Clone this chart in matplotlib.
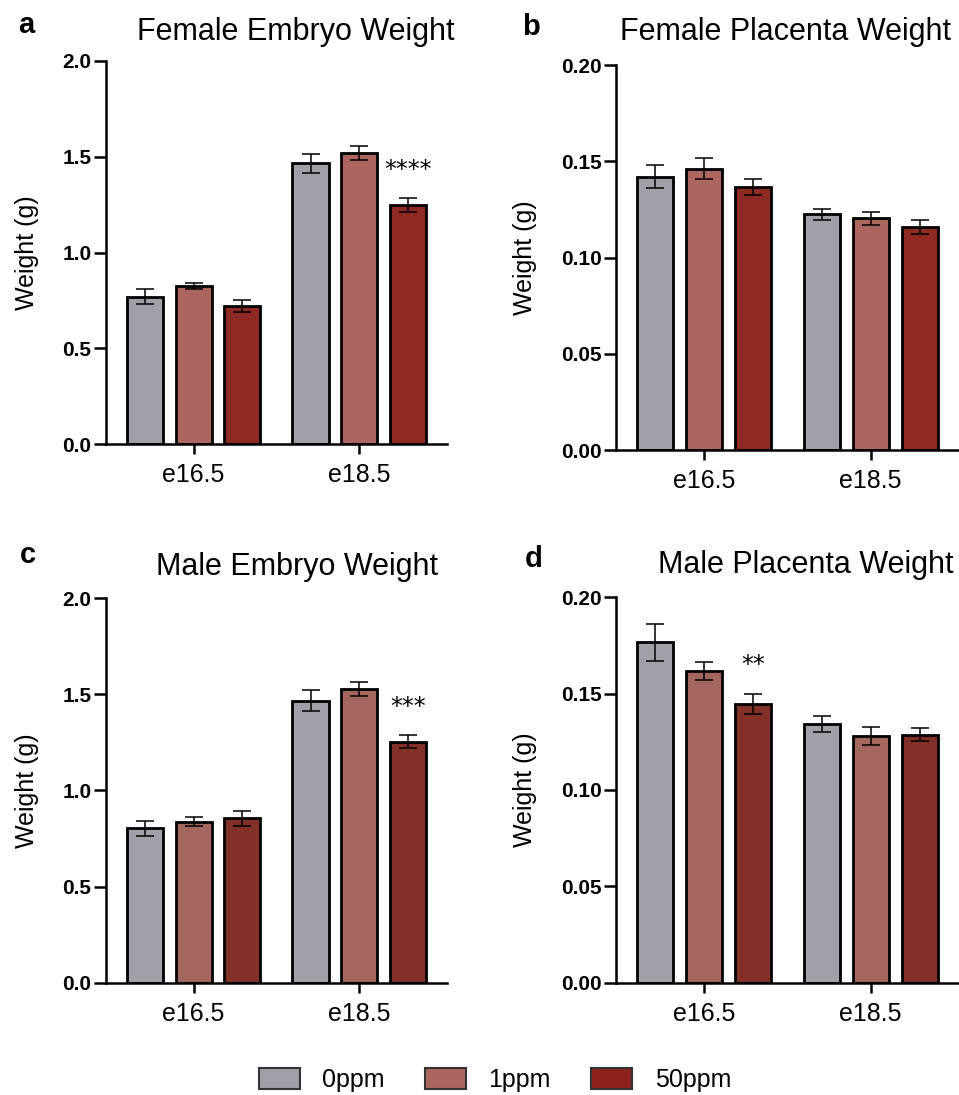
import matplotlib
matplotlib.use("Agg")
import matplotlib.pyplot as plt
from matplotlib.patches import Patch
from matplotlib.ticker import FormatStrFormatter
import numpy as np

# stages on the x axis, doses as bars within each stage
stages = ["e16.5", "e18.5"]
doses = ["0ppm", "1ppm", "50ppm"]

# rows = dose (0, 1, 50 ppm), cols = stage (e16.5, e18.5)
female_embryo = [[0.770, 1.466], [0.825, 1.521], [0.720, 1.248]]
female_embryo_err = [[0.040, 0.050], [0.017, 0.037], [0.030, 0.035]]
female_placenta = [[0.1420, 0.1225], [0.1462, 0.1204], [0.1367, 0.1159]]
female_placenta_err = [[0.0060, 0.0030], [0.0054, 0.0033], [0.0040, 0.0035]]
male_embryo = [[0.803, 1.467], [0.838, 1.526], [0.855, 1.254]]
male_embryo_err = [[0.038, 0.056], [0.024, 0.036], [0.038, 0.033]]
male_placenta = [[0.1767, 0.1343], [0.1619, 0.1280], [0.1445, 0.1287]]
male_placenta_err = [[0.0095, 0.0040], [0.0047, 0.0049], [0.0053, 0.0033]]

# significance marks: (label, dose index, stage index, y position)
female_embryo_sig = [("****", 2, 1, 1.43)]
male_embryo_sig = [("***", 2, 1, 1.436)]
male_placenta_sig = [("**", 2, 0, 0.165)]

female_colors = ["#a0a0a9", "#ad665f", "#8e2a23"]
male_colors = ["#a0a0a9", "#a4675f", "#833028"]
legend_colors = ["#a0a0a9", "#ad665f", "#8e221e"]

FONT = "Liberation Sans"


def _bar_panel(ax, means, errs, colors, yticks, fmt, sigs):
    x = np.arange(len(stages))
    width = 0.218
    step = 0.294
    for i, dose in enumerate(doses):
        xi = x + (i - 1) * step
        ax.bar(xi, means[i], width=width, color=colors[i], edgecolor="black",
               linewidth=2.0, zorder=2)
        ax.errorbar(xi, means[i], yerr=errs[i], fmt="none", ecolor="black",
                    elinewidth=1.1, capsize=6.5, capthick=1.1, zorder=3)
    for label, di, si, ypos in sigs:
        ax.text(x[si] + (di - 1) * step, ypos, label, ha="center", va="center",
                fontsize=17, family="DejaVu Sans")

    ax.set_xlim(-0.53, 1.53)
    ax.set_ylim(yticks[0], yticks[-1])
    ax.set_yticks(yticks)
    ax.yaxis.set_major_formatter(FormatStrFormatter(fmt))
    ax.set_xticks(x)
    ax.set_xticklabels(stages, fontsize=18, family=FONT)
    for lab in ax.get_yticklabels():
        lab.set_fontweight("bold")
        lab.set_fontsize(15)
        lab.set_family(FONT)
    ax.set_ylabel("Weight (g)", fontsize=18, family=FONT, labelpad=17)

    for side in ["top", "right"]:
        ax.spines[side].set_visible(False)
    for side in ["left", "bottom"]:
        ax.spines[side].set_linewidth(1.8)
    ax.tick_params(axis="y", direction="out", length=9, width=1.8, pad=1.5)
    ax.tick_params(axis="x", direction="out", length=7, width=1.8, pad=7)


fig = plt.figure(figsize=(9.59, 10.95), dpi=100)

ax_a = fig.add_axes([0.1105, 0.5945, 0.3555, 0.3498])
ax_b = fig.add_axes([0.6423, 0.5890, 0.3577, 0.3514])
ax_c = fig.add_axes([0.1105, 0.1026, 0.3555, 0.3510])
ax_d = fig.add_axes([0.6423, 0.1026, 0.3577, 0.3519])

emb_ticks = [0.0, 0.5, 1.0, 1.5, 2.0]
plac_ticks = [0.00, 0.05, 0.10, 0.15, 0.20]

_bar_panel(ax_a, female_embryo, female_embryo_err, female_colors, emb_ticks, "%.1f", female_embryo_sig)
_bar_panel(ax_b, female_placenta, female_placenta_err, female_colors, plac_ticks, "%.2f", [])
_bar_panel(ax_c, male_embryo, male_embryo_err, male_colors, emb_ticks, "%.1f", male_embryo_sig)
_bar_panel(ax_d, male_placenta, male_placenta_err, male_colors, plac_ticks, "%.2f", male_placenta_sig)

# titles and panel letters
titles = [("Female Embryo Weight", 296, 40), ("Female Placenta Weight", 786, 40),
          ("Male Embryo Weight", 297, 575), ("Male Placenta Weight", 806, 573)]
for t, px, py in titles:
    fig.text(px / 959, 1 - py / 1095, t, ha="center", va="baseline",
             fontsize=22, family=FONT)

letters = [("a", 18, 33), ("b", 522, 35), ("c", 20, 563), ("d", 525, 567)]
for t, px, py in letters:
    fig.text(px / 959, 1 - py / 1095, t, ha="left", va="baseline",
             fontsize=21, fontweight="bold", family=FONT)

handles = [Patch(facecolor=c, edgecolor="#333333", linewidth=1.5) for c in legend_colors]
fig.legend(handles, doses, loc="center", bbox_to_anchor=(0.516, 1 - 1080 / 1095),
           ncol=3, frameon=False, prop={"family": FONT, "size": 18},
           handlelength=1.65, handleheight=0.95, handletextpad=0.9, columnspacing=1.6)

fig.savefig("out.png", dpi=100)
plt.close(fig)
